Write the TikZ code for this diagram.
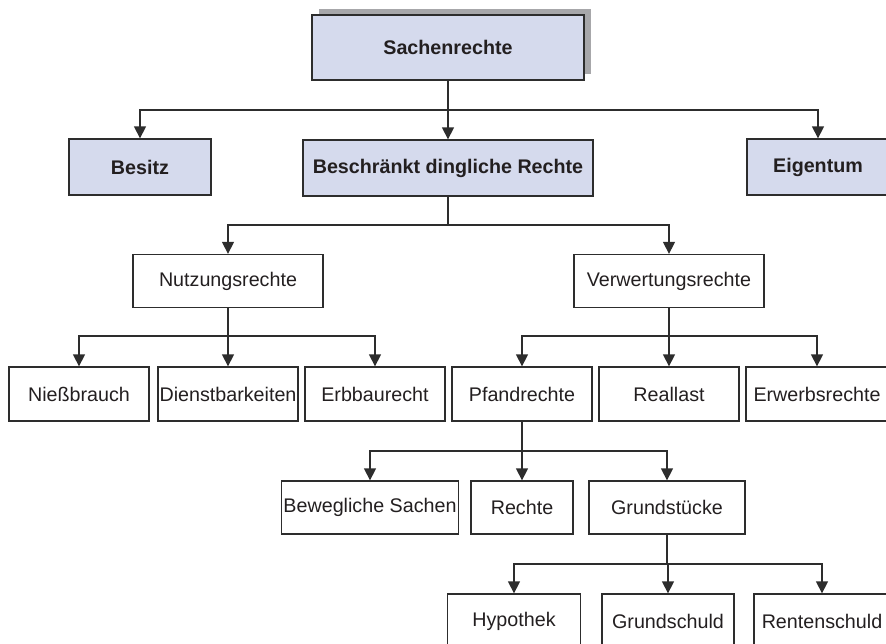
\documentclass[tikz,border=0pt]{standalone}
\usepackage{fontspec}
\setmainfont{Liberation Sans}
\usetikzlibrary{arrows.meta,shadows}
\definecolor{lavender}{RGB}{213,218,237}
\definecolor{shadegray}{RGB}{167,167,170}
\definecolor{linegray}{RGB}{45,45,45}
\definecolor{textgray}{RGB}{35,31,32}
\begin{document}
\begin{tikzpicture}[x=1pt, y=-1pt,
  box/.style={rectangle, draw=linegray, line width=1.3pt, inner sep=0pt,
    minimum height=54pt, text=textgray, font=\fontsize{19.7}{23}\selectfont},
  topbox/.style={box, fill=lavender, minimum height=56pt,
    font=\fontsize{19.7}{23}\selectfont\bfseries},
  arr/.style={draw=linegray, line width=1.3pt, -{Triangle[length=12pt, width=12pt]}},
  stem/.style={draw=linegray, line width=1.3pt}]
\useasboundingbox (0,0) rectangle (886,643);
\clip (0,0) rectangle (886,643);
% top
\node [topbox, minimum width=272pt, minimum height=65pt,
  drop shadow={shadow xshift=7pt, shadow yshift=6pt, fill=shadegray, opacity=1}]
  (sachen) at (448,47.5) {Sachenrechte};
\node [topbox, minimum width=142pt] (besitz) at (140,167) {Besitz};
\node [topbox, minimum width=290pt] (beschr) at (448,168) {Beschränkt dingliche Rechte};
\node [topbox, minimum width=142pt] (eigentum) at (818,167) {Eigentum};
% second level
\node [box, minimum width=190pt, minimum height=53pt] (nutzung) at (228,281) {Nutzungsrechte};
\node [box, minimum width=190pt, minimum height=53pt] (verwert) at (669,281) {Verwertungsrechte};
% third level
\node [box, minimum width=140pt] (niess) at (79,394) {Nießbrauch};
\node [box, minimum width=140pt] (dienst) at (228,394) {Dienstbarkeiten};
\node [box, minimum width=140pt] (erbbau) at (375,394) {Erbbaurecht};
\node [box, minimum width=140pt] (pfand) at (522,394) {Pfandrechte};
\node [box, minimum width=140pt] (reallast) at (669,394) {Reallast};
\node [box, minimum width=142pt] (erwerb) at (817,394) {Erwerbsrechte};
% fourth level
\node [box, minimum width=177pt, minimum height=53pt] (beweglich) at (370,507.5) {Bewegliche Sachen};
\node [box, minimum width=102pt, minimum height=53pt] (rechte) at (522,507.5) {Rechte};
\node [box, minimum width=156pt, minimum height=53pt] (grund) at (667,507.5) {Grundstücke};
% fifth level
\node [box, minimum width=133pt] (hypothek) at (514,621) {Hypothek};
\node [box, minimum width=132pt] (gschuld) at (668,621) {Grundschuld};
\node [box, minimum width=136pt] (rschuld) at (822,621) {Rentenschuld};
% bus lines
\coordinate (bus1) at (0,110);
\coordinate (bus2) at (0,225);
\coordinate (bus3) at (0,336);
\coordinate (bus4) at (0,451);
\coordinate (bus5) at (0,564);
% connectors
\draw [stem] (sachen.south) -- (sachen.south |- bus1);
\draw [arr] (sachen.south |- bus1) -| (besitz.north);
\draw [arr] (sachen.south) -- (beschr.north);
\draw [arr] (sachen.south |- bus1) -| (eigentum.north);
\draw [stem] (beschr.south) -- (beschr.south |- bus2);
\draw [arr] (beschr.south |- bus2) -| (nutzung.north);
\draw [arr] (beschr.south |- bus2) -| (verwert.north);
\draw [stem] (nutzung.south) -- (nutzung.south |- bus3);
\draw [arr] (nutzung.south |- bus3) -| (niess.north);
\draw [arr] (nutzung.south) -- (dienst.north);
\draw [arr] (nutzung.south |- bus3) -| (erbbau.north);
\draw [stem] (verwert.south) -- (verwert.south |- bus3);
\draw [arr] (verwert.south |- bus3) -| (pfand.north);
\draw [arr] (verwert.south) -- (reallast.north);
\draw [arr] (verwert.south |- bus3) -| (erwerb.north);
\draw [stem] (pfand.south) -- (pfand.south |- bus4);
\draw [arr] (pfand.south |- bus4) -| (beweglich.north);
\draw [arr] (pfand.south) -- (rechte.north);
\draw [arr] (pfand.south |- bus4) -| (grund.north);
\draw [stem] (grund.south) -- (grund.south |- bus5);
\draw [arr] (grund.south |- bus5) -| (hypothek.north);
\draw [arr] (grund.south |- bus5) -| (gschuld.north);
\draw [arr] (grund.south |- bus5) -| (rschuld.north);
\end{tikzpicture}
\end{document}
